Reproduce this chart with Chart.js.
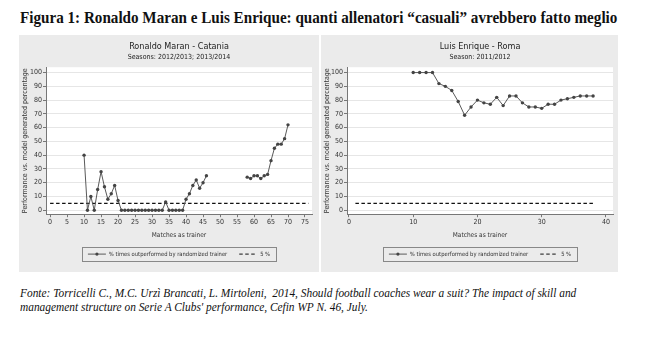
<!DOCTYPE html>
<html>
<head>
<meta charset="utf-8">
<script src="https://cdn.jsdelivr.net/npm/chart.js@4.4.0/dist/chart.umd.min.js"></script>
<style>
  body { margin: 0; background: #fff; width: 660px; height: 353px; position: relative; overflow: hidden; }
  #title { position: absolute; left: 20px; top: 9px; font: bold 16px 'Liberation Serif', serif; color: #111; white-space: nowrap; transform-origin: 0 0; }
  .panel { position: absolute; top: 35px; height: 237px; background: #ebebeb; }
  #p1 { left: 19px; width: 300px; }
  #p2 { left: 321px; width: 297px; }
  .foot { position: absolute; left: 20px; font: italic 12.5px 'Liberation Serif', serif; color: #111; white-space: nowrap; transform-origin: 0 0; }
</style>
</head>
<body>
<div id="title">Figura 1: Ronaldo Maran e Luis Enrique: quanti allenatori “casuali” avrebbero fatto meglio</div>
<div class="panel" id="p1"><canvas id="c1" width="300" height="237"></canvas></div>
<div class="panel" id="p2"><canvas id="c2" width="297" height="237"></canvas></div>
<div class="foot" id="f1" style="top:286px">Fonte: Torricelli C., M.C. Urzì Brancati, L. Mirtoleni,&nbsp; 2014, Should football coaches wear a suit? The impact of skill and</div>
<div class="foot" id="f2" style="top:300px">management structure on Serie A Clubs' performance, Cefin WP N. 46, July.</div>

<script>
// Ronaldo Maran - Catania (matches 10-46, then 58-70; gap = not in charge)
const maranMatches = [
  10, 11, 12, 13, 14, 15, 16, 17, 18, 19, 20, 21, 22, 23, 24, 25, 26, 27, 28, 29,
  30, 31, 32, 33, 34, 35, 36, 37, 38, 39, 40, 41, 42, 43, 44, 45, 46, 52,
  58, 59, 60, 61, 62, 63, 64, 65, 66, 67, 68, 69, 70
]
const maranValues = [
  40, 0, 10, 0, 15, 28, 17, 8, 12, 18, 7, 0, 0, 0, 0, 0, 0, 0, 0, 0,
  0, 0, 0, 0, 6, 0, 0, 0, 0, 0, 8, 12, 18, 22, 16, 20, 25, null,
  24, 23, 25, 25, 23, 25, 26, 36, 45, 48, 48, 52, 62
]

// Luis Enrique - Roma
const enriqueMatches = [
  10, 11, 12, 13, 14, 15, 16, 17, 18, 19, 20, 21, 22, 23, 24, 25, 26, 27, 28, 29,
  30, 31, 32, 33, 34, 35, 36, 37, 38
]
const enriqueValues = [
  100, 100, 100, 100, 92, 90, 87, 79, 69, 75, 80, 78, 77, 82, 76, 83, 83, 78, 75, 75,
  74, 77, 77, 80, 81, 82, 83, 83, 83
]

// 5% reference line
const thresholdValue = 5
const maranThresholdX = [0, 76]
const enriqueThresholdX = [1, 38]

const yTicks = [0, 10, 20, 30, 40, 50, 60, 70, 80, 90, 100]
const maranXTicks = [0, 5, 10, 15, 20, 25, 30, 35, 40, 45, 50, 55, 60, 65, 70, 75]
const enriqueXTicks = [0, 10, 20, 30, 40]

const seriesLabel = '% times outperformed by randomized trainer'
const thresholdLabel = '5 %'

const narrow = "'Liberation Sans Narrow', 'DejaVu Sans Condensed', sans-serif"
const axisColor = '#777'
const textColor = '#333'
const sampleWidth = 18

// white plot region, titles + legend centred on the plot, legend boxed (Stata look)
const stataLook = {
  id: 'stataLook',
  afterLayout(chart) {
    const a = chart.chartArea
    const mid = (a.left + a.right) / 2
    chart.boxes
      .filter(b => !(b instanceof Chart.Scale) && (b.position === 'top' || b.position === 'bottom'))
      .forEach(b => {
        const shift = mid - (b.left + b.right) / 2
        b.left += shift
        b.right += shift
      })
  },
  beforeDraw(chart) {
    const { ctx, chartArea: a } = chart
    ctx.save()
    ctx.fillStyle = '#fff'
    ctx.fillRect(a.left, a.top, a.right - a.left, a.bottom - a.top)
    ctx.restore()
  },
  afterDraw(chart) {
    const boxes = chart.legend && chart.legend.legendHitBoxes
    if (!boxes || !boxes.length) return
    const { ctx } = chart
    const left = Math.min(...boxes.map(b => b.left)) - 6
    const right = Math.max(...boxes.map(b => b.left + b.width)) + 6
    const top = Math.min(...boxes.map(b => b.top)) - 4
    const bottom = Math.max(...boxes.map(b => b.top + b.height)) + 4
    ctx.save()
    ctx.strokeStyle = '#888'
    ctx.lineWidth = 1
    ctx.strokeRect(Math.round(left) + 0.5, Math.round(top) + 0.5, Math.round(right - left), Math.round(bottom - top))
    // marker dot on the series line sample
    const b = boxes[0]
    ctx.fillStyle = '#444'
    ctx.beginPath()
    ctx.arc(b.left + sampleWidth / 2, b.top + b.height / 2, 1.6, 0, Math.PI * 2)
    ctx.fill()
    ctx.restore()
  }
}

// legend samples: plain line in the dataset's colour and dash
const legendLabels = chart =>
  Chart.defaults.plugins.legend.labels.generateLabels(chart).map((item, i) => {
    const ds = chart.data.datasets[i]
    return { ...item, strokeStyle: ds.borderColor, lineWidth: 1, lineDash: ds.borderDash || [] }
  })

function makeChart(canvasId, cfg) {
  const ctx = document.getElementById(canvasId).getContext('2d')
  return new Chart(ctx, {
    type: 'line',
    data: {
      datasets: [
        {
          label: seriesLabel,
          data: cfg.matches.map((m, i) => ({ x: m, y: cfg.values[i] })),
          borderColor: '#5a5a5a',
          borderWidth: 1,
          pointRadius: 1.7,
          pointBackgroundColor: '#444',
          pointBorderWidth: 0,
          spanGaps: false,
          tension: 0
        },
        {
          label: thresholdLabel,
          data: cfg.thresholdX.map(x => ({ x: x, y: thresholdValue })),
          borderColor: '#111',
          borderWidth: 1.2,
          borderDash: [3.5, 2.5],
          pointRadius: 0,
          tension: 0
        }
      ]
    },
    options: {
      responsive: false,
      animation: false,
      layout: { padding: { left: 0, right: cfg.padRight, top: 0, bottom: 5 } },
      plugins: {
        title: {
          display: true,
          text: cfg.title,
          color: '#222',
          font: { family: narrow, size: 9, weight: 'normal' },
          padding: { top: 6, bottom: 0 }
        },
        subtitle: {
          display: true,
          text: cfg.subtitle,
          color: '#222',
          font: { family: narrow, size: 7 },
          padding: { top: 1, bottom: 6 }
        },
        legend: {
          display: true,
          position: 'bottom',
          labels: {
            color: textColor,
            font: { family: narrow, size: 5.8 },
            usePointStyle: true,
            pointStyle: 'line',
            pointStyleWidth: sampleWidth,
            padding: 12,
            generateLabels: legendLabels
          }
        },
        tooltip: { enabled: false }
      },
      scales: {
        x: {
          type: 'linear',
          min: cfg.xMin,
          max: cfg.xMax,
          afterBuildTicks: s => { s.ticks = cfg.xTicks.map(v => ({ value: v })) },
          afterFit: s => { s.height = 25 },
          border: { color: axisColor, width: 1 },
          grid: { drawOnChartArea: false, drawTicks: true, tickLength: 3, tickColor: axisColor },
          ticks: { color: textColor, font: { family: narrow, size: 7 }, padding: 1, maxRotation: 0 },
          title: {
            display: true,
            text: 'Matches as trainer',
            color: textColor,
            font: { family: narrow, size: 6.5 },
            padding: { top: 0, bottom: 0 }
          }
        },
        y: {
          type: 'linear',
          min: -2.9,
          max: 103.9,
          afterBuildTicks: s => { s.ticks = yTicks.map(v => ({ value: v })) },
          afterFit: s => { s.width = cfg.yWidth },
          border: { color: axisColor, width: 1 },
          grid: { color: '#e6e6e6', drawTicks: true, tickLength: 3, tickColor: axisColor },
          ticks: { color: textColor, font: { family: narrow, size: 7 }, padding: 1 },
          title: {
            display: true,
            text: 'Performance vs. model generated percentage',
            color: textColor,
            font: { family: narrow, size: 7 },
            padding: { top: 2, bottom: 0 }
          }
        }
      }
    },
    plugins: [stataLook]
  })
}

makeChart('c1', {
  title: 'Ronaldo Maran - Catania',
  subtitle: 'Seasons: 2012/2013; 2013/2014',
  matches: maranMatches,
  values: maranValues,
  thresholdX: maranThresholdX,
  xTicks: maranXTicks,
  xMin: -1.2,
  xMax: 77.06,
  yWidth: 27,
  padRight: 7
})

makeChart('c2', {
  title: 'Luis Enrique - Roma',
  subtitle: 'Season: 2011/2012',
  matches: enriqueMatches,
  values: enriqueValues,
  thresholdX: enriqueThresholdX,
  xTicks: enriqueXTicks,
  xMin: -0.31,
  xMax: 41.1,
  yWidth: 26,
  padRight: 5
})

// the source text is horizontally condensed: squeeze to the reference widths
function squeeze(el, target) {
  const w = el.offsetWidth
  el.style.transform = `scaleX(${target / w})`
  return target / w
}
squeeze(document.getElementById('title'), 597)
const k = squeeze(document.getElementById('f1'), 556)
document.getElementById('f2').style.transform = `scaleX(${k})`
</script>
</body>
</html>
